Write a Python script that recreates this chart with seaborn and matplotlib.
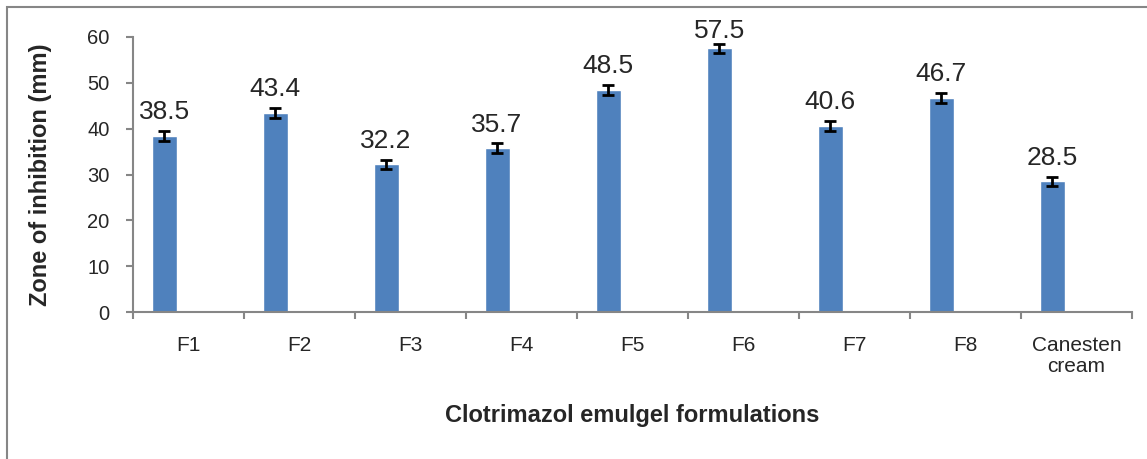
import numpy as np
import pandas as pd
import matplotlib
matplotlib.use("Agg")
from matplotlib import pyplot as plt
from matplotlib.patches import Rectangle
import seaborn as sns

formulations = ["F1", "F2", "F3", "F4", "F5", "F6", "F7", "F8", "Canesten\ncream"]
zone_mm = [38.5, 43.4, 32.2, 35.7, 48.5, 57.5, 40.6, 46.7, 28.5]
zone_err = [1.1, 1.1, 1.0, 1.1, 1.1, 1.0, 1.1, 1.1, 1.0]
# label lift above the error cap, in points (F6 was nudged down to fit)
label_lift = [8.5, 8.5, 8.5, 8.5, 8.5, 4.5, 8.5, 8.5, 8.5]

sns.set_style("white")
plt.rcParams["font.family"] = ["Liberation Sans", "DejaVu Sans"]

bar_color = "#4F81BD"
axis_gray = "#868686"

df = pd.DataFrame({"name": formulations, "zone": zone_mm, "err": zone_err})
df["pos"] = np.arange(len(df)) - 0.22

fig = plt.figure(figsize=(11.47, 4.59), dpi=100)
ax = fig.add_axes([133 / 1147, 1 - 312 / 459, 999 / 1147, 275 / 459])

sns.barplot(data=df, x="pos", y="zone", native_scale=True, width=0.225,
            color=bar_color, saturation=1, errorbar=None, ax=ax)
ax.errorbar(df["pos"], df["zone"], yerr=df["err"], fmt="none", ecolor="black",
            elinewidth=2, capsize=4.5, capthick=2)

for p, v, e, lift in zip(df["pos"], df["zone"], df["err"], label_lift):
    ax.annotate(f"{v:.1f}", (p, v + e), xytext=(0, lift), textcoords="offset points",
                ha="center", va="baseline", fontsize=19)

ax.set_xlim(-0.5, len(df) - 0.5)
ax.set_ylim(0, 60)
ax.set_yticks(range(0, 61, 10))
ax.set_xticks(np.arange(len(df) + 1) - 0.5)
ax.set_xticklabels([])
ax.set_xticks(np.arange(len(df)), minor=True)
ax.set_xticklabels(df["name"], minor=True, fontsize=15, va="top", linespacing=1.15)
ax.tick_params(axis="x", which="major", direction="out", length=5, width=1.5,
               color=axis_gray, bottom=True)
ax.tick_params(axis="x", which="minor", length=0, pad=17)
ax.tick_params(axis="y", direction="out", length=5, width=1.5, color=axis_gray,
               left=True, labelsize=14.5, pad=12)

for s in ["top", "right"]:
    ax.spines[s].set_visible(False)
for s in ["left", "bottom"]:
    ax.spines[s].set_color(axis_gray)
    ax.spines[s].set_linewidth(1.5)

ax.set_xlabel("Clotrimazol emulgel formulations", fontsize=17, fontweight="bold", va="center")
ax.xaxis.set_label_coords(0.5, -0.375)
ax.set_ylabel("Zone of inhibition (mm)", fontsize=17, fontweight="bold", va="center")
ax.yaxis.set_label_coords(-0.093, 0.5)

# outer chart border (only top and left visible in the crop)
fig.patches.append(Rectangle((7 / 1147, -0.5), 2, 1.5 - 7 / 459, transform=fig.transFigure,
                             fill=False, edgecolor=axis_gray, linewidth=1.5))

fig.savefig("out.png", dpi=100)
